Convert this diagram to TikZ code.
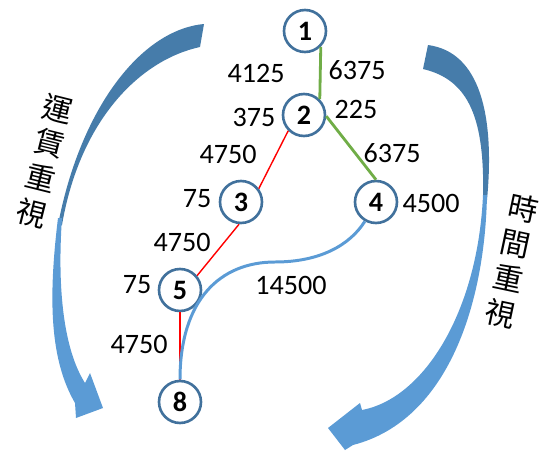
\documentclass[tikz,border=0pt]{standalone}
\usepackage{fontspec}
\setmainfont{Carlito}
\newfontfamily\cjk{Noto Sans CJK TC}
\definecolor{ringblue}{RGB}{65,113,156}
\definecolor{leafgreen}{RGB}{112,173,71}
\definecolor{skyblue}{RGB}{91,155,213}
\definecolor{arrowdark}{RGB}{70,124,170}

\begin{document}
\begin{tikzpicture}[x=0.02cm,y=-0.02cm]
	\tikzstyle{Station} = [circle, minimum size=0.84cm, inner sep=0pt, draw=ringblue, line width=1.5pt, fill=white, font=\fontsize{16}{18}\selectfont\bfseries]
	\tikzstyle{Weight} = [inner sep=0pt, font=\fontsize{16}{18}\selectfont]
	\tikzstyle{Side} = [align=center, inner sep=0pt, font=\cjk\fontsize{17}{20.4}\selectfont]
	\tikzstyle{costLine} = [draw=red, line width=0.8pt]
	\tikzstyle{timeLine} = [draw=leafgreen, line width=1.6pt]
	\tikzstyle{routeLine} = [draw=skyblue, line width=1.7pt]
	
	%\draw[step=50,gray,very thin] (0,0) grid (542,453);
	\useasboundingbox (0,0) rectangle (542,453);
	
	% left sweep
	\fill [arrowdark] (204,24) .. controls (140,30) and (80,110) .. (58,225) -- (62,225) .. controls (80,120) and (140,60) .. (200,47) -- cycle;
	\fill [skyblue] (58,218) .. controls (48,300) and (50,360) .. (75,403) -- (76,418) -- (103,408) -- (90,373) -- (85,383) .. controls (64,350) and (57,290) .. (62,218) -- cycle;
	% right sweep
	\fill [arrowdark] (428,45) .. controls (480,52) and (495,115) .. (487,200) -- (483,200) .. controls (485,120) and (470,80) .. (423,69) -- cycle;
	\fill [skyblue] (487,195) .. controls (485,300) and (450,420) .. (353,445) -- (345,450) -- (328,428) -- (360,403) -- (362,410) .. controls (425,398) and (478,310) .. (483,195) -- cycle;
	
	\node (sideCost) [Side, rotate=-14] at (45,161) {運\\賃\\重\\視};
	\node (sideTime) [Side, rotate=-12] at (512,261) {時\\間\\重\\視};
	
	\node (node1) [Station] at (305,31) {1};
	\node (node2) [Station] at (304,115) {2};
	\node (node3) [Station] at (241,202) {3};
	\node (node4) [Station] at (376,202) {4};
	\node (node5) [Station] at (180,290) {5};
	\node (node8) [Station] at (180,402) {8};
	
	\node (c12) [Weight] at (256,73) {4125};
	\node (t12) [Weight] at (357,70) {6375};
	\node (c2) [Weight] at (254,117) {375};
	\node (t2) [Weight] at (356,109) {225};
	\node (c23) [Weight] at (228,154) {4750};
	\node (t24) [Weight] at (392,153) {6375};
	\node (c3) [Weight] at (197,199) {75};
	\node (t4) [Weight] at (431,203) {4500};
	\node (c35) [Weight] at (182,242) {4750};
	\node (c5) [Weight] at (137,285) {75};
	\node (t48) [Weight] at (291,285) {14500};
	\node (c58) [Weight] at (139,344) {4750};
	
	\draw [timeLine] (node1.-45) -- (node2.45);
	\draw [timeLine] (node2.-3) -- (node4.north);
	\draw [costLine] (node2.-135) -- (node3.37);
	\draw [costLine] (node3.-95) -- (node5.40);
	\draw [costLine] (node5.south) -- (node8.north);
	\draw [routeLine] (node8.north) .. controls (180,300) and (220,262) .. (275,262) .. controls (320,262) and (350,245) .. (node4.-120);
\end{tikzpicture}
\end{document}
